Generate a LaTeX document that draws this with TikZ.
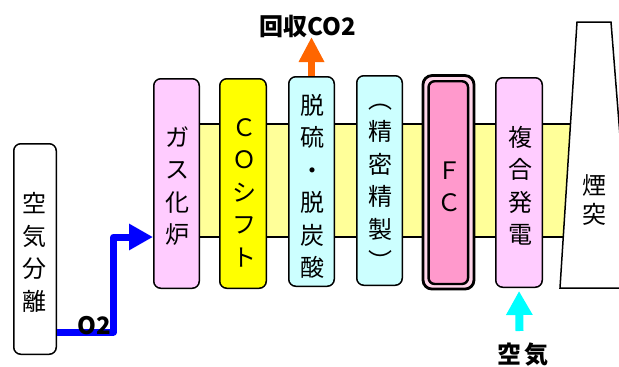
\documentclass[tikz,border=0pt]{standalone}
\usepackage{fontspec}
\usetikzlibrary{arrows.meta}
\newfontfamily\jp{Noto Sans CJK JP}
\definecolor{pinkbox}{HTML}{FFCCFF}
\definecolor{yellowbox}{HTML}{FFFF00}
\definecolor{cyanbox}{HTML}{CCFFFF}
\definecolor{fcpink}{HTML}{FF99CC}
\definecolor{fcring}{HTML}{FFD6EA}
\definecolor{bandyellow}{HTML}{FFFF99}
\definecolor{oxblue}{HTML}{0000FF}
\definecolor{coorange}{HTML}{FF6600}
\definecolor{aircyan}{HTML}{00FFFF}
\tikzset{
  unitbox/.style={draw=black, line width=1.5pt, rounded corners=7pt, inner sep=0pt,
    minimum width=46pt, minimum height=210pt},
  vtxt/.style={font=\jp\fontsize{24}{32.5}\selectfont, align=center, inner sep=0pt},
  boldlbl/.style={font=\jp\bfseries\fontsize{24}{26}\selectfont, inner sep=0pt},
  flow/.style={line width=7pt, line join=round},
}
\begin{document}
\begin{tikzpicture}[x=1pt,y=-1pt]
\useasboundingbox (0,0) rectangle (619,367);
% background band
\fill[bandyellow] (165,124) -- (575,124) -- (575,237) -- (165,237) -- cycle;
\draw[line width=1.5pt] (165,124) -- (575,124);
\draw[line width=1.5pt] (165,237) -- (575,237);
% chimney
\filldraw[fill=white, draw=black, line width=1.5pt] (560,288) -- (577,22) -- (611,22) -- (632,288) -- cycle;
\node[vtxt, font=\jp\fontsize{24}{29}\selectfont] (chim) at (594.5,200.5) {煙\\突};
% boxes
\node[unitbox, fill=white, minimum width=42.5pt, minimum height=210.5pt] (sep) at (35,249) {};
\node[vtxt] (septxt) at (35,252.5) {空\\気\\分\\離};
\node[unitbox, fill=pinkbox, minimum width=45.5pt, minimum height=209.5pt] (gas) at (176.5,183.5) {};
\node[vtxt] (gastxt) at (177.5,186) {ガ\\ス\\化\\炉};
\node[unitbox, fill=yellowbox, minimum width=46.5pt, minimum height=209.5pt] (shift) at (243,183.5) {};
\node[vtxt] (shifttxt) at (244,192.5) {Ｃ\\Ｏ\\シ\\フ\\ト};
\node[unitbox, fill=cyanbox, minimum width=45.5pt, minimum height=209.5pt] (desulf) at (311.5,181.5) {};
\node[vtxt] (desulftxt) at (312,186.5) {脱\\硫\\・\\脱\\炭\\酸};
\node[unitbox, fill=cyanbox, minimum width=45.5pt, minimum height=209.5pt] (refine) at (379.5,180.5) {};
\node[vtxt] (refinetxt) at (380,187.5) {︵\\精\\密\\精\\製\\︶};
\node[unitbox, fill=fcring, line width=2.8pt, rounded corners=9pt, minimum width=51pt, minimum height=213.5pt] (fcout) at (448.5,182.3) {};
\node[unitbox, fill=fcpink, line width=2.4pt, rounded corners=6pt, minimum width=39.5pt, minimum height=202.7pt] (fc) at (448.3,182.6) {};
\node[vtxt, font=\jp\fontsize{24}{31.5}\selectfont] (fctxt) at (449.5,187) {Ｆ\\Ｃ};
\node[unitbox, fill=pinkbox, minimum width=46.5pt, minimum height=209.5pt] (comb) at (519,182.5) {};
\node[vtxt] (combtxt) at (520,186) {複\\合\\発\\電};
% O2 flow
\draw[flow, oxblue, -{Triangle[length=24pt,width=25pt]}]
  (sep.east |- 0,332) -| (113.5,237) -- (gas.west |- 0,237);
\node[boldlbl, font=\jp\bfseries\fontsize{24}{26}\selectfont] (o2) at (94,326) {O2};
% CO2 recovery
\draw[flow, coorange, -{Triangle[length=25pt,width=24pt]}]
  (desulf.north) -- (desulf.north |- 0,37);
\node[boldlbl] (co2) at (308,26) {回収CO2};
% air
\coordinate (airin) at (519.5,331);
\draw[line width=8pt, aircyan, -{Triangle[length=24pt,width=25pt]}, shorten >=3pt]
  (airin) -- (comb.south);
\node[boldlbl] (air) at (523,355) {空\kern3pt 気};
\end{tikzpicture}
\end{document}
